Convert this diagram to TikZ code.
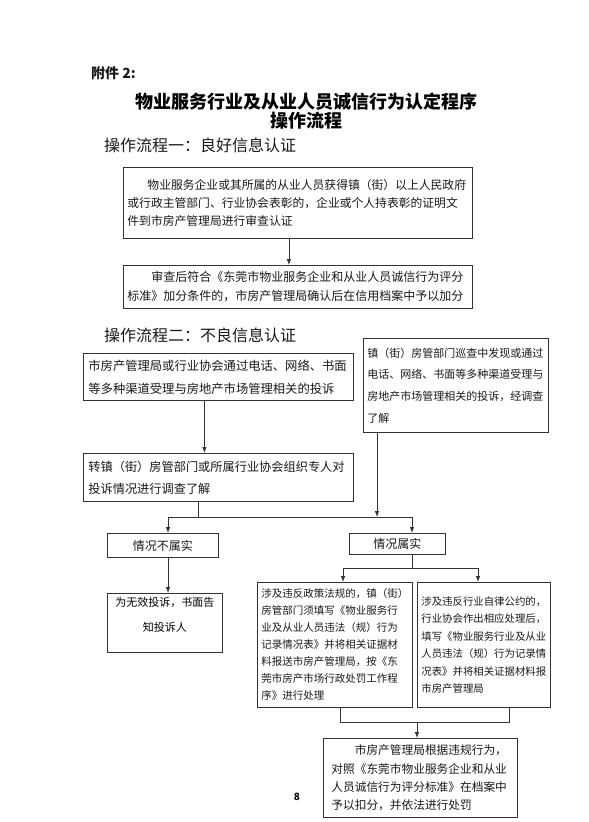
\documentclass[tikz,border=0pt]{standalone}
\usepackage{fontspec}
\setmainfont{Noto Sans CJK SC}
\usetikzlibrary{shapes,arrows,arrows.meta,positioning}

\tikzset{
  flowbox/.style={rectangle, draw=black!80, line width=0.8pt, inner xsep=4pt, inner ysep=0pt, anchor=north west, align=left, text=black!90},
  flowline/.style={draw=black!80, line width=0.8pt},
  heading/.style={anchor=west, inner sep=0pt, text=black!90},
}

\begin{document}
\begin{tikzpicture}[x=1pt, y=-1pt, >={Latex[length=6pt,width=4.5pt]}]
  \useasboundingbox[fill=white] (0,0) rectangle (589,822);

  % headings
  \node[heading, font=\fontsize{14}{16}\selectfont\bfseries] (annex) at (91,73) {附件 2:};
  \node[align=center, inner sep=0pt, font=\fontsize{18}{16}\selectfont\bfseries] (title) at (306,111) {物业服务行业及从业人员诚信行为认定程序\\操作流程};
  \node[heading, font=\fontsize{16}{18}\selectfont] (part1) at (104,145) {操作流程一：良好信息认证};

  % flow one
  \node[flowbox, text width=341pt, minimum height=71pt, font=\fontsize{11.8}{18}\selectfont] (award) at (123,167)
    {\hspace*{1.7em}物业服务企业或其所属的从业人员获得镇（街）以上人民政府\\或行政主管部门、行业协会表彰的，企业或个人持表彰的证明文\\件到市房产管理局进行审查认证};
  \node[flowbox, text width=341pt, minimum height=43pt, font=\fontsize{12}{19}\selectfont] (confirm) at (123,265)
    {\hspace*{2em}审查后符合《东莞市物业服务企业和从业人员诚信行为评分\\标准》加分条件的，市房产管理局确认后在信用档案中予以加分};

  \node[heading, font=\fontsize{16}{18}\selectfont] (part2) at (104,335) {操作流程二：不良信息认证};

  % flow two
  \node[flowbox, inner xsep=5pt, text width=260pt, minimum height=47pt, font=\fontsize{12.3}{23}\selectfont] (complaint) at (83,353)
    {市房产管理局或行业协会通过电话、网络、书面\\等多种渠道受理与房地产市场管理相关的投诉};
  \node[flowbox, text width=177pt, minimum height=94pt, font=\fontsize{11}{21.7}\selectfont] (patrol) at (363,338)
    {镇（街）房管部门巡查中发现或通过\\电话、网络、书面等多种渠道受理与\\房地产市场管理相关的投诉，经调查\\了解};
  \node[flowbox, inner xsep=5pt, text width=260pt, minimum height=48pt, font=\fontsize{12.2}{22}\selectfont] (transfer) at (83,453)
    {转镇（街）房管部门或所属行业协会组织专人对\\投诉情况进行调查了解};

  \node[flowbox, align=center, text width=103pt, minimum height=24pt, font=\fontsize{12}{14}\selectfont] (no) at (107,533) {情况不属实};
  \node[flowbox, align=center, text width=88pt, minimum height=21pt, font=\fontsize{12}{14}\selectfont] (yes) at (349,533) {情况属实};

  \node[flowbox, text width=107pt, minimum height=59pt] (invalid) at (107,593) {};
  \node[below=4pt of invalid.north, align=center, inner sep=0pt, font=\fontsize{11}{25}\selectfont] (invalidtext) {为无效投诉，书面告\\知投诉人};

  \node[flowbox, text width=147pt, minimum height=125pt, font=\fontsize{10.5}{17}\selectfont] (illegal) at (257,582)
    {涉及违反政策法规的，镇（街）\\房管部门须填写《物业服务行\\业及从业人员违法（规）行为\\记录情况表》并将相关证据材\\料报送市房产管理局，按《东\\莞市房产市场行政处罚工作程\\序》进行处理};
  \node[flowbox, text width=125pt, minimum height=125pt, font=\fontsize{10.4}{17.5}\selectfont] (selfreg) at (417,582)
    {涉及违反行业自律公约的，\\行业协会作出相应处理后，\\填写《物业服务行业及从业\\人员违法（规）行为记录情\\况表》并将相关证据材料报\\市房产管理局\\[17pt]};

  \node[flowbox, inner xsep=8pt, text width=178pt, minimum height=79pt, font=\fontsize{11.7}{18.3}\selectfont] (final) at (323,738)
    {\hspace*{2em}市房产管理局根据违规行为，\\对照《东莞市物业服务企业和从业\\人员诚信行为评分标准》在档案中\\予以扣分，并依法进行处罚};

  \node[inner sep=0pt, font=\fontsize{10}{12}\selectfont\bfseries] (pagenum) at (297,797) {8};

  % connectors
  \coordinate (split) at (198,517);
  \coordinate (lefttap) at (168,517);
  \coordinate (righttap) at (412,517);
  \coordinate (patroltap) at (377,517);
  \coordinate (yestap) at (412,568);
  \coordinate (ltap) at (343,568);
  \coordinate (rtap) at (478,568);
  \coordinate (mleft) at (340,722);
  \coordinate (mright) at (509,722);
  \coordinate (mmid) at (417,722);

  \draw[flowline, ->] ([xshift=-9pt]award.south) -- ([xshift=-9pt]confirm.north);
  \draw[flowline, ->] ([xshift=-14pt]complaint.south) -- ([xshift=-14pt]transfer.north);
  \draw[flowline, ->] (patroltap |- patrol.south) -- (patroltap);
  \draw[flowline] (split |- transfer.south) -- (split);
  \draw[flowline] (lefttap) -- (righttap);
  \draw[flowline, ->] (lefttap) -- (lefttap |- no.north);
  \draw[flowline, ->] (righttap) -- (righttap |- yes.north);
  \draw[flowline, ->] (lefttap |- no.south) -- (lefttap |- invalid.north);
  \draw[flowline] (yestap |- yes.south) -- (yestap);
  \draw[flowline] (ltap) -- (rtap);
  \draw[flowline, ->] (ltap) -- (ltap |- illegal.north);
  \draw[flowline, ->] (rtap) -- (rtap |- selfreg.north);
  \draw[flowline] (mleft |- illegal.south) -- (mleft) -- (mright) -- (mright |- selfreg.south);
  \draw[flowline, ->] (mmid) -- (mmid |- final.north);
\end{tikzpicture}
\end{document}
